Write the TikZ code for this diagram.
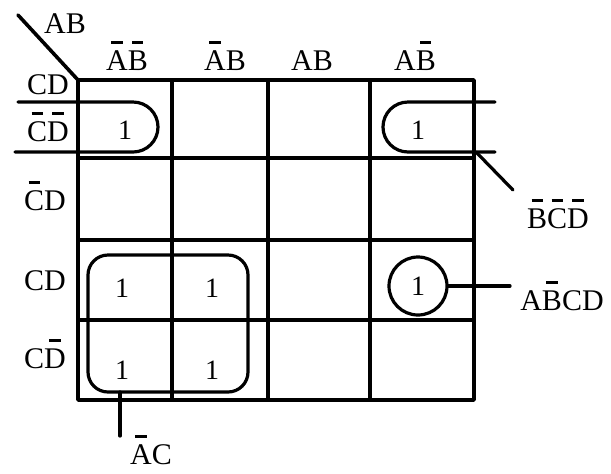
\documentclass[tikz,border=0pt]{standalone}
\usepackage{fontspec}
\setmainfont{Liberation Serif}
\newcommand{\nb}[1]{\setbox0=\hbox{#1}\makebox[0pt][l]{\hbox to \wd0{\hss\rule[0.88em]{0.55\wd0}{0.09em}\hss}}\box0}
\begin{document}
\begin{tikzpicture}[x=0.5pt,y=-0.5pt,line cap=round,line join=round,
  gridline/.style={line width=1.8pt},
  loopline/.style={line width=1.6pt},
  lbl/.style={font=\fontsize{15}{17}\selectfont,inner sep=0pt,anchor=base},
  one/.style={font=\fontsize{14}{16}\selectfont,inner sep=0pt}]
\useasboundingbox (0,0) rectangle (611,473);
% grid
\draw[gridline] (78,80) rectangle (474,400);
\foreach \x in {172,268,370} \draw[gridline] (\x,80) -- (\x,400);
\foreach \y in {158,240,320} \draw[gridline] (78,\y) -- (474,\y);
\draw[gridline] (18,15) -- (78,80);
% headers
\node[lbl] (hAB) at (65,33) {AB};
\node[lbl] (c1) at (127,70) {\nb{A}\nb{B}};
\node[lbl] (c2) at (225,70) {\nb{A}B};
\node[lbl] (c3) at (312,70) {AB};
\node[lbl] (c4) at (415,70) {A\nb{B}};
\node[lbl] (hCD) at (48,94) {CD};
\node[lbl] (r1) at (48,141) {\nb{C}\nb{D}};
\node[lbl] (r2) at (45,210) {\nb{C}D};
\node[lbl] (r3) at (45,290) {CD};
\node[lbl] (r4) at (45,368) {C\nb{D}};
% ones
\node[one] (o1) at (125,130) {1};
\node[one] (o2) at (418,130) {1};
\node[one] (o3) at (122,288) {1};
\node[one] (o4) at (212,288) {1};
\node[one] (o5) at (122,370) {1};
\node[one] (o6) at (212,370) {1};
\node[one,draw,circle,line width=1.6pt,minimum size=29pt] (o7) at (418,286) {1};
% loops
\draw[loopline,rounded corners=12.5pt] (18,102) -- (158,102) -- (158,152) -- (15,152);
\draw[loopline,rounded corners=12.5pt] (495,102) -- (383,102) -- (383,152) -- (495,152);
\draw[loopline,rounded corners=10pt] (88,255) rectangle (248,392);
% leaders and labels
\coordinate (bstart) at (476,152);
\coordinate (bend) at (513,190);
\node[lbl] (lBCD) at (558,228) {\nb{B}\nb{C}\nb{D}};
\draw[loopline] (bstart) -- (bend);
\coordinate (astart) at (120,392);
\coordinate (aend) at (120,436);
\node[lbl] (lAC) at (151,464) {\nb{A}C};
\draw[loopline] (astart) -- (aend);
\coordinate (cend) at (510,286);
\node[lbl] (lABCD) at (562,310) {A\nb{B}CD};
\draw[loopline] (o7.east) -- (cend);
\end{tikzpicture}
\end{document}
